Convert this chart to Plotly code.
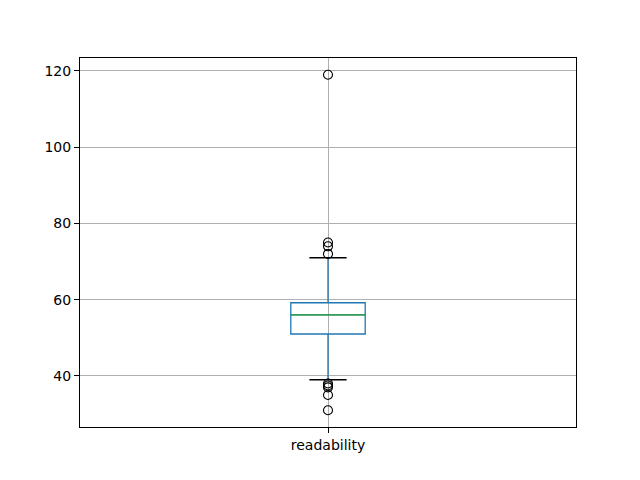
import plotly.graph_objects as go

# values
columns = ["readability"]
q1 = [51.0]
median = [56.0]
q3 = [59.2]
whisker_low = [39.0]
whisker_high = [71.0]
outliers = [119.0, 75.0, 74.0, 72.0, 38.0, 37.5, 37.0, 35.0, 31.0]

BLUE = "#1f77b4"
GREEN = "#2ca02c"
box_width = 0.15
pos = 1

fig = go.Figure()

# box + whiskers
fig.add_trace(go.Box(
    x=[pos],
    q1=q1,
    median=median,
    q3=q3,
    lowerfence=whisker_low,
    upperfence=whisker_high,
    width=box_width,
    whiskerwidth=0,
    line=dict(color=BLUE, width=1.3),
    fillcolor="rgba(0,0,0,0)",
    boxpoints=False,
    hoverinfo="skip",
    showlegend=False,
))

# median line in green
half = box_width / 2
fig.add_trace(go.Scatter(
    x=[pos - half, pos + half], y=[median[0], median[0]],
    mode="lines", line=dict(color=GREEN, width=1.3),
    showlegend=False, hoverinfo="skip",
))

# black caps
cap = box_width / 4
for v in (whisker_low[0], whisker_high[0]):
    fig.add_trace(go.Scatter(
        x=[pos - cap, pos + cap], y=[v, v],
        mode="lines", line=dict(color="black", width=1.3),
        showlegend=False, hoverinfo="skip",
    ))

# fliers
fig.add_trace(go.Scatter(
    x=[pos] * len(outliers), y=outliers,
    mode="markers",
    marker=dict(symbol="circle-open", size=9, color="black", line=dict(width=1.1)),
    showlegend=False,
))

axis_style = dict(
    showline=True, linecolor="black", linewidth=1, mirror=True,
    ticks="outside", ticklen=5, tickcolor="black", tickwidth=1,
    showgrid=True, gridcolor="#b0b0b0", gridwidth=1, zeroline=False,
    tickfont=dict(family="DejaVu Sans", size=14, color="black"),
)

fig.update_xaxes(range=[0.5, 1.5], tickvals=[pos], ticktext=columns, **axis_style)
fig.update_yaxes(range=[26.6, 123.4], tickvals=[40, 60, 80, 100, 120], **axis_style)

# page body adds an 8px offset, margins compensate for it
fig.update_layout(
    width=640, height=480,
    margin=dict(l=72, r=72, t=50, b=61),
    plot_bgcolor="white", paper_bgcolor="white",
    showlegend=False,
)

fig.write_html("out.html")
